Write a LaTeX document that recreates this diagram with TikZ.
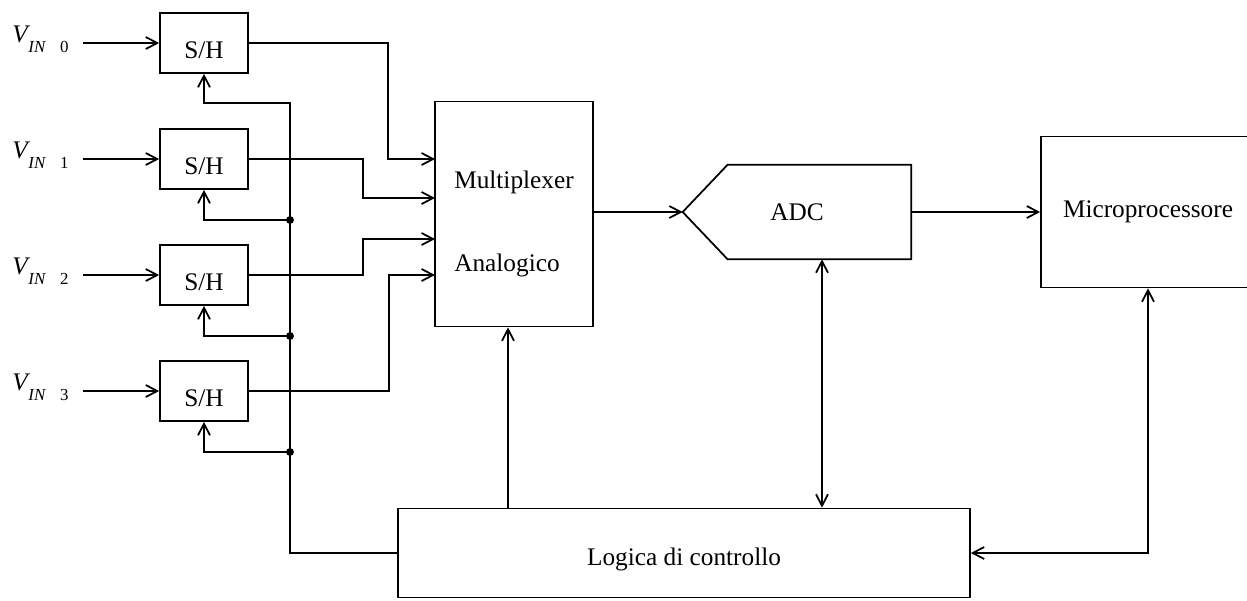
\documentclass[tikz,border=0pt]{standalone}
\usepackage{fontspec}
\setmainfont{Liberation Serif}
\usetikzlibrary{arrows.meta}

\tikzset{
  box/.style={draw, line width=1pt, inner sep=0pt},
  shbox/.style={box, minimum width=1.76cm, minimum height=1.2cm, text height=0.62cm, text depth=0pt},
  wire/.style={line width=1pt},
  vlabel/.style={anchor=base west, inner sep=0pt},
  dot/.style={circle, fill, inner sep=0pt, minimum size=4.5pt}
}
\newcommand{\vin}[1]{\textit{V}\kern-1pt\raisebox{-6pt}{\fontsize{9.6}{11}\selectfont\textit{IN}\hspace{8pt}#1}}

\begin{document}
\begin{tikzpicture}[x=0.02cm, y=-0.02cm, >={Straight Barb[length=2.3mm,width=2.4mm]},
  font=\fontsize{14.4}{17}\selectfont]
\useasboundingbox (0,0) rectangle (1247,600);

% sample and hold stages
\node[shbox] (sh0) at (204,43) {S/H};
\node[shbox] (sh1) at (204,159) {S/H};
\node[shbox] (sh2) at (204,275) {S/H};
\node[shbox] (sh3) at (204,391) {S/H};

\node[vlabel] (v0) at (12,42) {\vin{0}};
\node[vlabel] (v1) at (12,158) {\vin{1}};
\node[vlabel] (v2) at (12,274) {\vin{2}};
\node[vlabel] (v3) at (12,390) {\vin{3}};

\coordinate (in0) at (83,43);
\coordinate (in1) at (83,159);
\coordinate (in2) at (83,275);
\coordinate (in3) at (83,391);

% main blocks
\node[box, minimum width=3.16cm, minimum height=4.5cm, align=left] (mux) at (514,214)
  {\rule{0pt}{0.75cm}Multiplexer\\[1.05cm]Analogico};
\node[inner sep=0pt, minimum width=4.56cm, minimum height=1.88cm] (adc) at (797,212) {ADC};
\draw[wire] (adc.west) -- ([xshift=0.9cm]adc.north west) -- (adc.north east)
  -- (adc.south east) -- ([xshift=0.9cm]adc.south west) -- cycle;
\node[box, minimum width=4.28cm, minimum height=3.02cm] (micro) at (1148,212) {Microprocessore};
\node[box, minimum width=11.44cm, minimum height=1.78cm, text height=0.6cm, text depth=0.1cm] (logic) at (684,553) {Logica di controllo};

% inputs
\draw[wire, ->] (in0) -- (sh0.west);
\draw[wire, ->] (in1) -- (sh1.west);
\draw[wire, ->] (in2) -- (sh2.west);
\draw[wire, ->] (in3) -- (sh3.west);

% into the multiplexer
\coordinate (m0) at (435,159);
\coordinate (m1) at (435,198);
\coordinate (m2) at (435,239);
\coordinate (m3) at (435,275);
\draw[wire, ->] (sh0.east) -- ++(139,0) |- (m0);
\draw[wire, ->] (sh1.east) -- ++(114,0) |- (m1);
\draw[wire, ->] (sh2.east) -- ++(114,0) |- (m2);
\draw[wire, ->] (sh3.east) -- ++(140,0) |- (m3);

% control bus
\node[dot] (j1) at (290,220) {};
\node[dot] (j2) at (290,336) {};
\node[dot] (j3) at (290,452) {};
\draw[wire, ->] (logic.west) -| (290,103) -| (sh0.south);
\draw[wire, ->] (j1.center) -| (sh1.south);
\draw[wire, ->] (j2.center) -| (sh2.south);
\draw[wire, ->] (j3.center) -| (sh3.south);

% data path and control lines
\draw[wire, ->] (mux.east |- adc.west) -- (adc.west);
\draw[wire, ->] (adc.east) -- (micro.west);
\draw[wire, ->] ([xshift=-0.12cm]mux.south |- logic.north) -- ([xshift=-0.12cm]mux.south);
\draw[wire, <->] ([xshift=0.5cm]adc.south) -- ([xshift=0.5cm]adc.south |- logic.north);
\draw[wire, <->] (micro.south) |- (logic.east);
\end{tikzpicture}
\end{document}
